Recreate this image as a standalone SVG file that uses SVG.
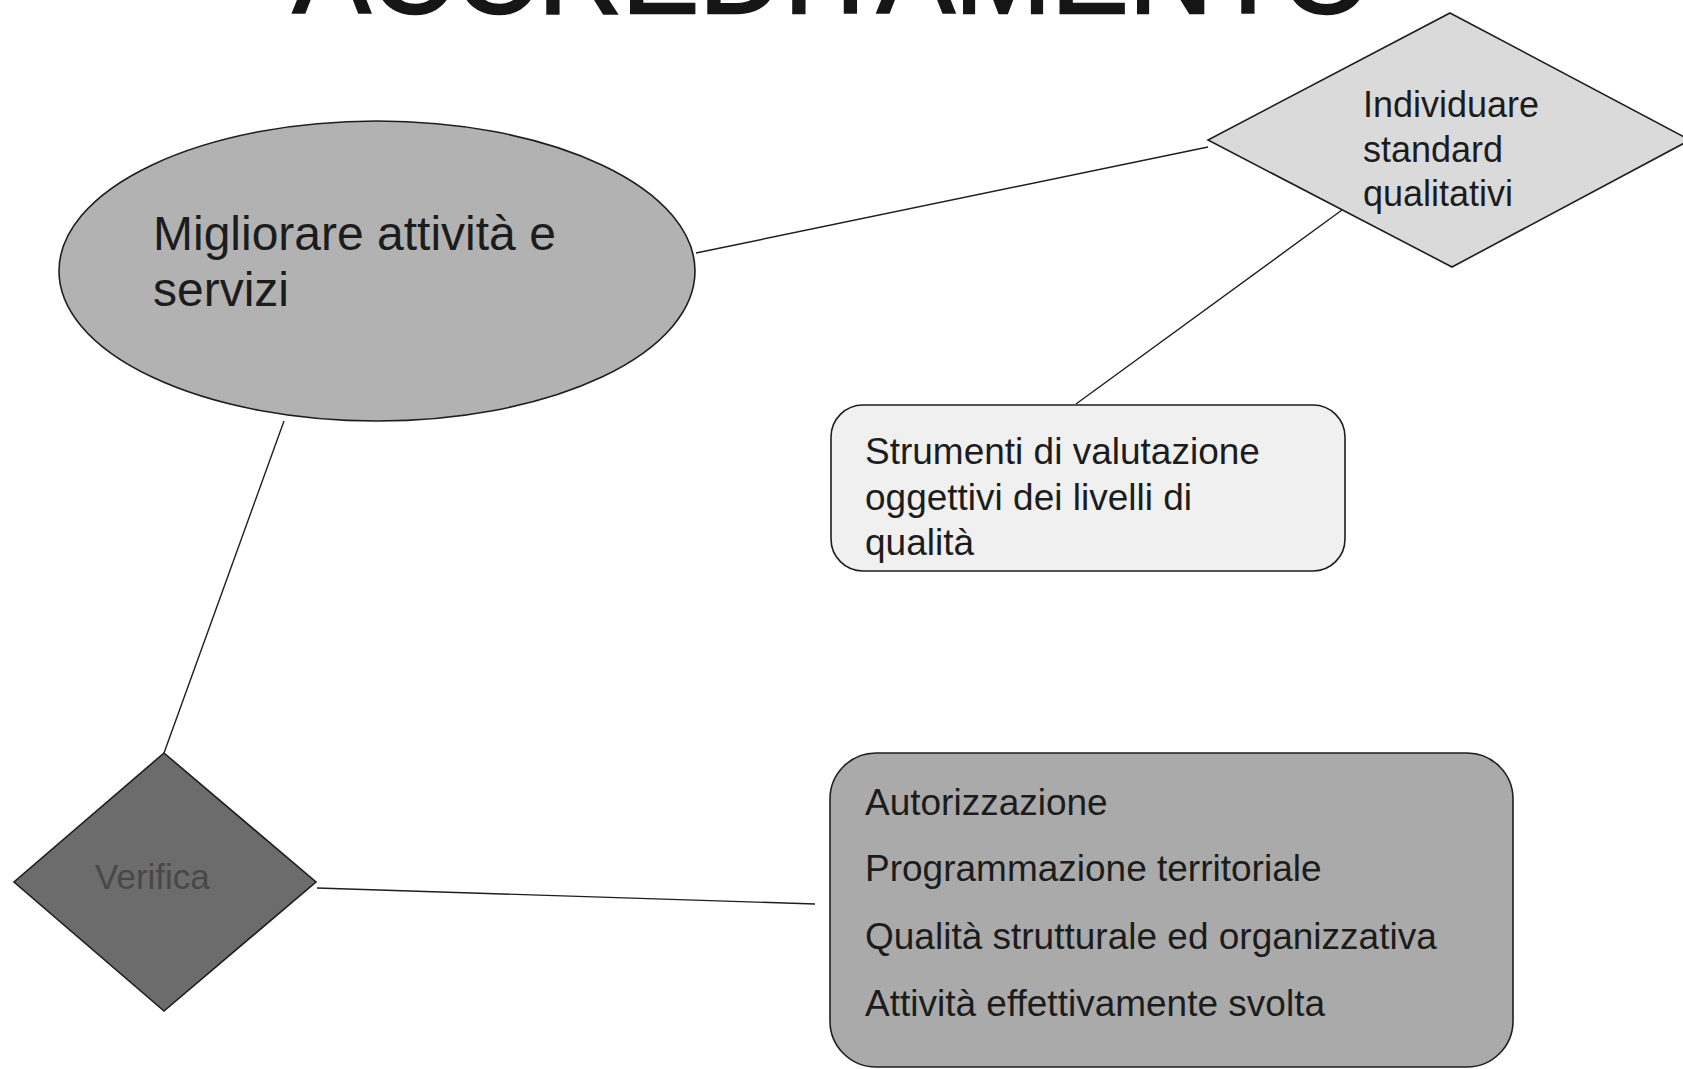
<svg xmlns="http://www.w3.org/2000/svg" width="1683" height="1069" viewBox="0 0 1683 1069">
<style>
text{font-family:"Liberation Sans",Arial,sans-serif;fill:#1c1c1c}
.shape{stroke:#1e1e1e;stroke-width:1.6}
.conn{stroke:#1e1e1e;stroke-width:1.4;fill:none}
</style>
<rect width="1683" height="1069" fill="#ffffff"/>
<text id="title" x="293" y="13" font-size="116" style="fill:#161616;stroke:#161616;stroke-width:2.5">ACCREDITAMENTO</text>
<g id="connectors">
<line class="conn" x1="696" y1="253" x2="1208" y2="147"/>
<line class="conn" x1="1342" y1="210" x2="1076" y2="404"/>
<line class="conn" x1="284" y1="421" x2="164" y2="753"/>
<line class="conn" x1="317" y1="888" x2="815" y2="904"/>
</g>
<g id="node-migliorare">
<ellipse class="shape" cx="377" cy="271" rx="318" ry="150" fill="#b2b2b2"/>
<text x="153" y="250" font-size="48">Migliorare attività e</text>
<text x="153" y="306" font-size="48">servizi</text>
</g>
<g id="node-individuare">
<polygon class="shape" points="1450,13 1690,140 1452,267 1208,140" fill="#dadada"/>
<text x="1363" y="117" font-size="36">Individuare</text>
<text x="1363" y="162" font-size="36">standard</text>
<text x="1363" y="206" font-size="36">qualitativi</text>
</g>
<g id="node-strumenti">
<rect class="shape" x="831" y="405" width="514" height="166" rx="32" ry="32" fill="#f0f0f0"/>
<text x="865" y="464" font-size="37">Strumenti di valutazione</text>
<text x="865" y="510" font-size="37">oggettivi dei livelli di</text>
<text x="865" y="555" font-size="37">qualità</text>
</g>
<g id="node-verifica">
<polygon class="shape" points="164,753 316,882 164,1011 14,882" fill="#6c6c6c"/>
<text x="95" y="889" font-size="35" style="fill:#484848">Verifica</text>
</g>
<g id="node-elenco">
<rect class="shape" x="830" y="753" width="683" height="314" rx="46" ry="46" fill="#aaaaaa"/>
<text x="865" y="815" font-size="37">Autorizzazione</text>
<text x="865" y="881" font-size="37">Programmazione territoriale</text>
<text x="865" y="949" font-size="37">Qualità strutturale ed organizzativa</text>
<text x="865" y="1016" font-size="37">Attività effettivamente svolta</text>
</g>
</svg>
